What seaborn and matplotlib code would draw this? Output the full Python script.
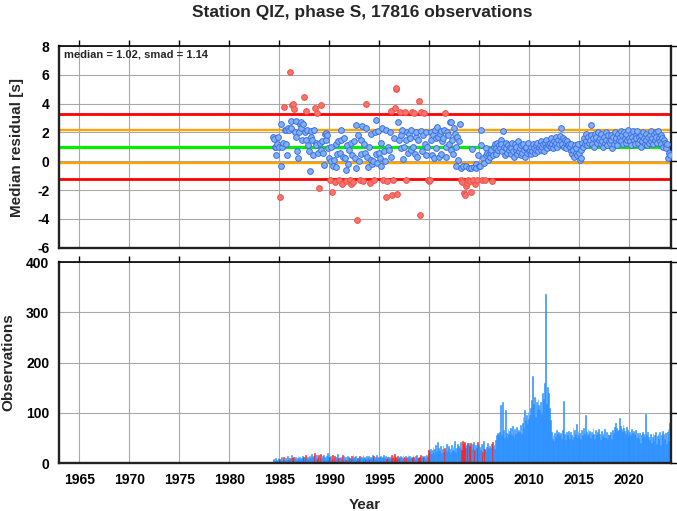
import numpy as np
import pandas as pd
import matplotlib
matplotlib.use("Agg")
import matplotlib.pyplot as plt
import seaborn as sns

# ---------------- data (monthly, first month = 1984-05) ----------------
start_year = 1984
start_month = 5
median = 1.02
smad = 1.14
title = "Station QIZ, phase S, 17816 observations"

resid_1984_1989 = [1.7, 1.55, 1.0, 0.45, 1.0, 1.2, 1.65, 1.0,
                   -2.45, 2.6, -0.3, 1.0, 1.3, 3.8, 2.2, 2.15, 1.2, 0.45, 2.3, 2.15,
                   6.2, 2.8, 2.3, 3.9, 3.95, 3.65, 2.0, 1.65, 2.8, 0.7, 0.2, 2.0,
                   2.6, 2.7, 2.3, 1.5, 2.6, 4.48, 2.0, 3.5, 1.45, 2.2, 1.1, 0.7,
                   -0.65, 2.1, 1.7, 1.5, 0.45, 2.2, 3.7, 1.3, 1.1, 3.35, 0.6, -1.83,
                   1.25, 3.9, 0.8, 1.4, 0.55, -0.25, 1.9, 1.5, 1.95, 1.8, 0.9, 0.2]
resid_1990_1994 = [-1.28, 0.0, 1.0, -2.1, -0.3, 0.1, -1.45, 1.2, -0.4, 0.5, 1.4, -1.3,
                   0.6, 2.2, 1.5, -1.6, 0.3, 1.6, 0.2, -0.6, -1.35, 1.1, -0.2, 0.8,
                   -1.3, 1.3, -1.55, 0.4, -1.45, 1.4, 0.2, 2.5, -0.5, -4.1, 1.8, 0.0,
                   -1.28, 0.5, 1.5, 2.45, -1.38, 1.2, 0.6, 3.95, 2.3, 0.3, -0.4, 1.0,
                   -1.5, 0.1, 1.9, -0.2, 0.0, -1.3, 2.0, 2.85, 0.5, -0.1, 2.1, 0.6]
resid_1995_1999 = [0.2, 1.3, -0.3, 2.3, -1.28, 0.7, 0.0, 2.2, -2.5, -1.4, 1.0, 0.8,
                   2.0, 0.3, 3.5, -2.35, -1.3, 1.6, 3.7, 5.0, 5.1, -2.3, 2.7, 1.5,
                   3.45, 1.8, 0.9, 2.2, 0.15, 1.0, 3.45, 1.5, -1.3, 2.0, 0.6, 1.9,
                   1.6, 0.8, 2.2, 3.45, 1.0, 3.35, 0.5, 1.7, 2.0, 0.3, 1.5, 4.15,
                   -3.73, 3.45, 2.1, 0.7, 1.8, 3.37, 1.2, 0.4, 2.0, 1.0, -1.28, -1.35]
resid_2000_2004 = [-1.3, 1.5, 2.0, 0.4, 1.8, 0.2, 2.2, 1.6, 0.9, 2.4, 1.7, 0.3,
                   1.9, 2.1, 0.5, 1.4, 1.6, 2.2, 3.35, 1.0, 0.3, 2.0, 1.8, 1.2,
                   2.75, 0.8, 2.7, 1.5, 0.5, 2.3, 1.9, 1.0, -0.3, 1.7, 0.1, 1.4,
                   2.6, -0.5, -1.28, -1.45, -0.35, -2.2, -2.35, -1.75, -0.3, -1.5, -1.3, -0.45,
                   -1.4, -2.15, -0.45, 0.85, -1.3, -0.4, -1.55, -0.2, -0.5, -1.3, 0.4, -0.3]
resid_2005_2009 = [-0.3, 1.15, 2.2, -1.28, 0.2, -0.1, -1.3, 0.95, 0.4, 0.6, 0.1, 0.5,
                   0.3, 0.6, 0.8, -1.35, 0.4, 1.0, 1.2, 0.9, 0.5, 1.3, 0.8, 1.1,
                   0.9, 1.5, 1.2, 0.7, 2.1, 1.0, 0.4, 0.9, 1.3, 0.6, 1.1, 0.8,
                   1.0, 0.5, 0.9, 1.3, 0.7, 0.3, 1.2, 0.8, 1.0, 0.5, 1.4, 0.7,
                   0.9, 0.4, 1.1, 0.6, 1.2, 0.8, 0.3, 0.9, 1.0, 0.6, 1.3, 0.7]
resid_2010_2014 = [0.8, 0.5, 1.0, 0.7, 1.2, 0.9, 0.6, 1.1, 0.8, 1.3, 0.7, 1.0,
                   1.1, 0.8, 1.4, 1.0, 1.2, 0.7, 1.3, 1.0, 1.5, 0.9, 1.2, 1.1,
                   1.3, 1.0, 1.6, 1.2, 0.9, 1.4, 1.1, 1.7, 1.3, 1.0, 1.5, 1.2,
                   1.75, 2.3, 1.4, 1.2, 1.6, 1.0, 1.5, 1.3, 0.9, 1.4, 1.1, 1.2,
                   1.0, 0.7, 1.2, 0.5, 0.8, 0.3, 1.1, 0.55, 0.9, 0.4, 1.2, 0.6]
resid_2015_2019 = [0.1, 0.2, 0.8, 1.3, 1.0, 1.6, 1.2, 1.9, 1.4, 1.1, 1.7, 1.3,
                   1.5, 1.8, 2.5, 1.2, 1.6, 1.0, 1.9, 1.4, 1.7, 1.3, 2.0, 1.5,
                   1.6, 1.2, 1.9, 1.4, 1.0, 1.7, 1.3, 2.0, 1.5, 1.1, 1.8, 1.4,
                   1.3, 1.8, 1.5, 0.9, 1.7, 1.2, 2.0, 1.4, 1.6, 1.1, 1.9, 1.5,
                   1.7, 2.1, 1.4, 1.8, 1.2, 2.0, 1.6, 1.3, 1.9, 1.5, 2.2, 1.6]
resid_2020_2024 = [1.4, 1.9, 1.1, 1.7, 2.1, 1.5, 1.2, 1.8, 1.6, 2.1, 1.3, 1.7,
                   1.5, 1.0, 1.8, 1.4, 2.0, 1.6, 1.2, 1.9, 1.5, 1.1, 1.7, 1.3,
                   1.8, 1.4, 2.1, 1.6, 1.2, 1.9, 1.5, 2.0, 1.7, 1.3, 2.1, 1.6,
                   1.4, 1.8, 1.2, 1.6, 1.0, 1.5, 1.3, 1.1, 0.9, 1.2, 0.2, 0.6,
                   0.45]

count_1984_1989 = [5, 8, 4, 10, 6, 3, 9, 7,
                   8, 5, 11, 4, 7, 12, 6, 9, 5, 14, 8, 6,
                   10, 7, 15, 9, 6, 12, 8, 11, 5, 9, 13, 7,
                   12, 8, 10, 14, 6, 11, 9, 16, 7, 12, 10, 8,
                   14, 9, 18, 11, 7, 13, 20, 10, 15, 8, 12, 16,
                   10, 17, 8, 13, 9, 15, 11, 7, 14, 19, 9, 12]
count_1990_1994 = [11, 14, 8, 16, 10, 7, 13, 9, 12, 18, 8, 10,
                   9, 12, 7, 15, 10, 13, 8, 11, 6, 14, 9, 12,
                   10, 7, 13, 9, 16, 8, 11, 14, 6, 10, 12, 8,
                   13, 9, 11, 7, 15, 10, 12, 8, 14, 9, 11, 13,
                   8, 12, 10, 16, 9, 13, 7, 11, 15, 10, 8, 12]
count_1995_1999 = [11, 14, 9, 12, 8, 16, 10, 13, 7, 11, 14, 9,
                   12, 8, 15, 10, 13, 9, 17, 11, 8, 14, 10, 12,
                   9, 13, 11, 8, 15, 10, 12, 14, 9, 11, 16, 10,
                   14, 10, 12, 9, 16, 11, 8, 13, 15, 10, 12, 9,
                   11, 15, 9, 13, 10, 12, 14, 8, 16, 11, 13, 26]
count_2000_2004 = [22, 28, 18, 25, 31, 20, 27, 35, 22, 41, 26, 30,
                   24, 33, 19, 28, 36, 22, 30, 25, 38, 21, 29, 34,
                   27, 20, 35, 24, 31, 26, 44, 22, 29, 37, 25, 33,
                   30, 42, 25, 43, 28, 38, 41, 30, 36, 40, 27, 39,
                   33, 40, 28, 38, 31, 42, 26, 35, 29, 41, 24, 36]
count_2005_2009 = [31, 26, 38, 22, 35, 44, 28, 25, 32, 40, 27, 30,
                   34, 29, 38, 42, 31, 36, 28, 45, 56, 60, 53, 58,
                   62, 116, 55, 121, 58, 65, 50, 106, 60, 52, 68, 57,
                   64, 70, 55, 73, 60, 52, 68, 58, 72, 61, 56, 66,
                   62, 75, 58, 80, 92, 70, 106, 85, 96, 78, 102, 88]
count_2010_2014 = [95, 110, 125, 173, 100, 118, 132, 92, 122, 108, 128, 115,
                   105, 122, 98, 140, 115, 128, 159, 337, 118, 152, 126, 140,
                   110, 85, 62, 48, 56, 44, 60, 52, 66, 58, 45, 62,
                   55, 60, 48, 66, 52, 124, 58, 46, 62, 55, 50, 64,
                   48, 62, 56, 45, 70, 52, 66, 58, 78, 50, 64, 55]
count_2015_2019 = [60, 48, 65, 56, 52, 70, 58, 96, 62, 54, 68, 57,
                   64, 50, 62, 55, 70, 58, 48, 66, 56, 62, 52, 68,
                   58, 46, 64, 55, 60, 52, 68, 50, 62, 48, 58, 55,
                   56, 62, 48, 66, 54, 60, 72, 80, 70, 64, 58, 66,
                   90, 74, 68, 62, 76, 70, 64, 58, 72, 66, 60, 54]
count_2020_2024 = [62, 56, 68, 60, 52, 64, 58, 66, 50, 60, 54, 48,
                   60, 40, 56, 62, 48, 58, 52, 98, 56, 62, 48, 52,
                   46, 58, 40, 52, 60, 44, 56, 62, 38, 54, 58, 48,
                   62, 36, 56, 64, 42, 58, 48, 60, 38, 62, 68, 44,
                   79]

x_ticks = list(range(1965, 2021, 5))
resid_ticks = [-6, -4, -2, 0, 2, 4, 6, 8]
count_ticks = [0, 100, 200, 300, 400]

# ---------------- assemble ----------------
resid = np.array(resid_1984_1989 + resid_1990_1994 + resid_1995_1999 + resid_2000_2004
                 + resid_2005_2009 + resid_2010_2014 + resid_2015_2019 + resid_2020_2024)
counts = np.array(count_1984_1989 + count_1990_1994 + count_1995_1999 + count_2000_2004
                  + count_2005_2009 + count_2010_2014 + count_2015_2019 + count_2020_2024)
n = len(resid)
assert len(counts) == n
months = start_month - 1 + np.arange(n)
t = start_year + (months + 0.5) / 12.0
lo2, hi2 = median - 2 * smad, median + 2 * smad
lo1, hi1 = median - smad, median + smad
outlier = (resid > hi2) | (resid < lo2)
df = pd.DataFrame({"t": t, "resid": resid, "count": counts,
                   "flag": np.where(outlier, "out", "ok")})
ok = df[df.flag == "ok"]
out = df[df.flag == "out"]

# ---------------- style ----------------
sns.set_style("white")
plt.rcParams["font.family"] = ["Liberation Sans", "DejaVu Sans"]
plt.rcParams["font.weight"] = "bold"
plt.rcParams["axes.labelweight"] = "bold"
plt.rcParams["axes.unicode_minus"] = False

W, H = 677, 511
fig = plt.figure(figsize=(W / 100, H / 100), dpi=100)
ax1 = fig.add_axes([59 / W, 1 - 247.7 / H, 612 / W, 201.7 / H])
ax2 = fig.add_axes([59 / W, 1 - 463 / H, 612 / W, 201 / H])
xlim = (1962.97, 2024.17)

# ---------------- top panel ----------------
for y, c, lw in [(hi2, "#ff0000", 2.0), (lo2, "#ff0000", 2.0),
                 (hi1, "#ffa500", 1.7), (lo1, "#ffa500", 1.7),
                 (median, "#00ee00", 2.3)]:
    ax1.axhline(y, color=c, lw=lw, zorder=2)
sns.scatterplot(data=ok, x="t", y="resid", ax=ax1, color="#80b2f2",
                edgecolor="#3f6ee8", s=17, linewidth=0.7, zorder=3, legend=False)
sns.scatterplot(data=out, x="t", y="resid", ax=ax1, color="#f8746a",
                edgecolor="#f0504a", s=17, linewidth=0.7, zorder=3, legend=False)
ax1.set_ylim(-6, 8)
ax1.set_yticks(resid_ticks)
ax1.text(5 / 612, 1 - (57.3 - 46) / 201.7, f"median = {median:.2f}, smad = {smad:.2f}",
         transform=ax1.transAxes, fontsize=8, fontweight="bold", va="baseline", ha="left")

# ---------------- bottom panel ----------------
bar_colors = np.where(outlier, "#ff1a1a", "#2a90ff")
ax2.bar(df["t"], df["count"], width=1 / 12.0, color=bar_colors,
        edgecolor=bar_colors, linewidth=0.4, zorder=2)
ax2.set_ylim(0, 400)
ax2.set_yticks(count_ticks)

for ax in (ax1, ax2):
    ax.set_xlim(*xlim)
    ax.set_xticks(x_ticks)
    ax.set_xlabel("")
    ax.set_ylabel("")
    ax.grid(True, color="#a8a8a8", lw=0.8)
    ax.set_axisbelow(True)
    ax.tick_params(direction="out", length=4, width=1, top=True, right=True,
                   labelsize=10, pad=3, colors="black")
    for s in ("left", "bottom", "right"):
        ax.spines[s].set_linewidth(1.7)
        ax.spines[s].set_color("#222222")
    ax.spines["top"].set_linewidth(1.2)
    ax.spines["top"].set_color("black")
    for lab in ax.get_xticklabels() + ax.get_yticklabels():
        lab.set_fontweight("bold")
ax1.tick_params(labelbottom=False)

fig.text(362.5 / W, 1 - 16.7 / H, title, ha="center", va="baseline",
         fontsize=12.5, fontweight="bold")
fig.text(17 / W, 1 - 147 / H, "Median residual [s]", rotation=90, ha="center",
         va="center", fontsize=11, fontweight="bold")
fig.text(8 / W, 1 - 362 / H, "Observations", rotation=90, ha="center",
         va="center", fontsize=11, fontweight="bold")
fig.text(365 / W, 1 - 509 / H, "Year", ha="center", va="baseline",
         fontsize=11, fontweight="bold")

fig.savefig("out.png", dpi=100)
